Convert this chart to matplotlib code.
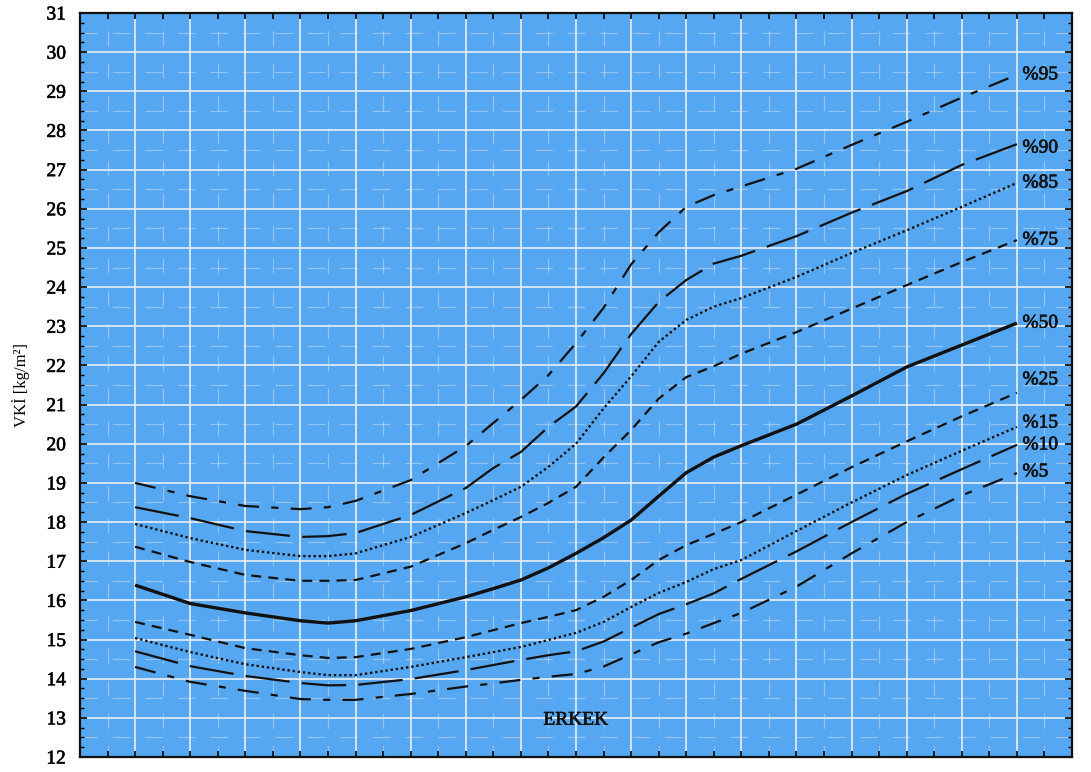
import matplotlib
matplotlib.use('Agg')
import matplotlib.pyplot as plt
import matplotlib.patheffects as pe
from matplotlib.ticker import MultipleLocator

# age in years (x axis has no labels in the original)
ages = [2, 3, 4, 5, 5.5, 6, 7, 8, 8.5, 9, 9.5, 10, 10.5, 11, 11.5, 12, 12.5, 13, 14, 15, 16, 17, 18]

p5 = [14.30, 13.92, 13.69, 13.48, 13.46, 13.46, 13.61, 13.80, 13.88, 13.97, 14.05, 14.12,
      14.31, 14.62, 14.93, 15.15, 15.42, 15.68, 16.35, 17.20, 18.00, 18.68, 19.25]
p10 = [14.70, 14.32, 14.07, 13.89, 13.83, 13.84, 13.99, 14.22, 14.35, 14.48, 14.60, 14.70,
       14.95, 15.30, 15.65, 15.90, 16.18, 16.55, 17.25, 18.00, 18.72, 19.35, 19.97]
p15 = [15.04, 14.68, 14.37, 14.17, 14.09, 14.09, 14.30, 14.55, 14.68, 14.81, 14.99, 15.17,
       15.45, 15.83, 16.19, 16.47, 16.80, 17.03, 17.77, 18.50, 19.20, 19.82, 20.43]
p25 = [15.45, 15.12, 14.78, 14.60, 14.53, 14.55, 14.76, 15.06, 15.24, 15.42, 15.58, 15.75,
       16.09, 16.52, 17.03, 17.41, 17.70, 18.00, 18.70, 19.40, 20.06, 20.70, 21.30]
p50 = [16.39, 15.92, 15.68, 15.48, 15.42, 15.48, 15.74, 16.09, 16.30, 16.52, 16.83, 17.20,
       17.60, 18.05, 18.66, 19.26, 19.66, 19.95, 20.50, 21.22, 21.96, 22.52, 23.08]
p75 = [17.37, 16.98, 16.65, 16.50, 16.50, 16.52, 16.86, 17.46, 17.80, 18.13, 18.49, 18.90,
       19.65, 20.35, 21.15, 21.70, 21.98, 22.30, 22.85, 23.45, 24.05, 24.64, 25.20]
p85 = [17.95, 17.59, 17.29, 17.13, 17.13, 17.20, 17.62, 18.23, 18.56, 18.90, 19.41, 20.00,
       20.90, 21.72, 22.60, 23.16, 23.50, 23.72, 24.26, 24.87, 25.45, 26.05, 26.66]
p90 = [18.38, 18.10, 17.77, 17.62, 17.64, 17.72, 18.18, 18.87, 19.38, 19.79, 20.43, 20.95,
       21.80, 22.80, 23.62, 24.18, 24.60, 24.80, 25.30, 25.90, 26.45, 27.12, 27.65]
p95 = [19.00, 18.66, 18.41, 18.33, 18.38, 18.54, 19.07, 19.94, 20.53, 21.12, 21.75, 22.57,
       23.47, 24.58, 25.40, 26.05, 26.35, 26.57, 27.02, 27.63, 28.22, 28.84, 29.42]

labels = ['%95', '%90', '%85', '%75', '%50', '%25', '%15', '%10', '%5']
series = [p95, p90, p85, p75, p50, p25, p15, p10, p5]
label_y = [29.42, 27.55, 26.66, 25.2, 23.08, 21.63, 20.53, 19.97, 19.28]

# line styles per percentile
dashdot = (0, (9.5, 5.5, 3.2, 5.5))
longdash = (0, (20, 5.5))
dotted = (0, (1.0, 1.2))
shortdash = (0, (4.5, 3.2))
styles = [dashdot, longdash, dotted, shortdash, '-', shortdash, dotted, longdash, dashdot]
widths = [1.6, 1.6, 1.7, 1.6, 2.4, 1.6, 1.7, 1.6, 1.6]

plt.rcParams['font.family'] = ['Liberation Serif', 'DejaVu Serif']
heavy = [pe.withStroke(linewidth=0.45, foreground='#111111')]

fig = plt.figure(figsize=(10.91, 7.72), dpi=100)
ax = fig.add_axes([0.0733, 0.0194, 0.9093, 0.9638])
ax.set_facecolor('#56a7f1')

ax.set_xlim(1, 19)
ax.set_ylim(12, 31)

# grid: solid major lines, faint dashed minor lines
for v in range(2, 19):
    ax.axvline(v, color='#e9eef4', lw=1.2, zorder=1)
for v in range(13, 31):
    ax.axhline(v, color='#e9eef4', lw=1.2, zorder=1)
for v in [i + 0.5 for i in range(1, 19)]:
    ax.axvline(v, color='#dde8f4', lw=0.9, ls=(3, (12, 14)), alpha=0.45, zorder=1)
for v in [i + 0.5 for i in range(12, 31)]:
    ax.axhline(v, color='#dde8f4', lw=0.9, ls=(0, (14, 12)), alpha=0.45, zorder=1)

for y, ls, lw in zip(series, styles, widths):
    ax.plot(ages, y, color='#111111', ls=ls, lw=lw, zorder=3,
            solid_capstyle='butt', dash_capstyle='butt', solid_joinstyle='round')

for lab, yv in zip(labels, label_y):
    ax.text(18.1, yv, lab, fontsize=14, color='#111111', va='center', ha='left',
            zorder=4, path_effects=heavy)

ax.text(10.0, 12.94, 'ERKEK', fontsize=14, color='#111111', ha='center', va='center',
        zorder=4, path_effects=heavy)

ax.yaxis.set_major_locator(MultipleLocator(1))
ax.yaxis.set_minor_locator(MultipleLocator(0.25))
ax.xaxis.set_major_locator(MultipleLocator(0.5))
ax.tick_params(axis='y', which='major', direction='in', length=5, width=1.2,
               left=True, right=True, labelsize=14, pad=10)
ax.tick_params(axis='y', which='minor', direction='in', length=3, width=1.0,
               left=True, right=True)
ax.tick_params(axis='x', which='major', direction='in', length=4, width=1.2,
               bottom=True, top=True, labelbottom=False)
for t in ax.get_yticklabels():
    t.set_path_effects(heavy)
for s in ax.spines.values():
    s.set_linewidth(1.6)
    s.set_color('#111111')

ax.set_ylabel('VKİ [kg/m²]', fontsize=12, labelpad=12)

fig.savefig('out.png', dpi=100)
